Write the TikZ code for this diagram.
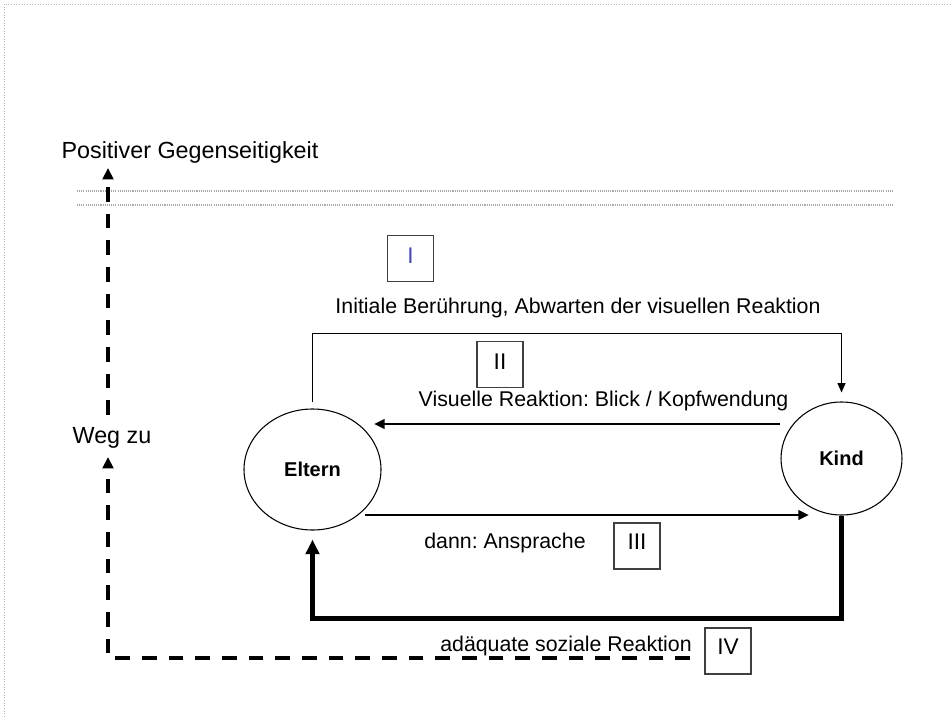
\documentclass[tikz,border=0pt]{standalone}
\usepackage{fontspec}
\setmainfont{Liberation Sans}
\usetikzlibrary{arrows.meta,shapes.geometric,calc}
\definecolor{numblue}{RGB}{70,70,200}
\frenchspacing
\begin{document}
\begin{tikzpicture}[x=0.75pt,y=-0.75pt,
  lbl/.style={anchor=base, inner sep=0pt, font=\fontsize{16}{19}\selectfont},
  biglbl/.style={anchor=base, inner sep=0pt, font=\fontsize{17.5}{21}\selectfont},
  party/.style={draw, ellipse, line width=0.8pt, inner sep=0pt, font=\bfseries\fontsize{15}{18}\selectfont},
  numbox/.style={draw=black!75, line width=1pt, minimum width=34.5pt, minimum height=34.5pt, inner sep=0pt},
  num/.style={font=\fontsize{17}{20}\selectfont, inner sep=0pt},
  thinarr/.style={line width=0.9pt, -{Triangle[length=7pt,width=6pt]}},
  midarr/.style={line width=2pt, -{Triangle[length=8pt,width=7pt]}},
  thickarr/.style={line width=3.2pt, line join=miter, -{Triangle[length=11pt,width=10pt]}},
  dasharr/.style={line width=2.7pt, dash pattern=on 11pt off 9pt, -{Triangle[length=8.5pt,width=8pt]}},
  dotline/.style={gray!70, line width=1pt, dash pattern=on 0.8pt off 0.8pt},
]
\useasboundingbox (0,0) rectangle (952,717);
\draw[gray!60, line width=0.6pt, dash pattern=on 0.8pt off 1.2pt] (4,717) -- (4,4) -- (952,4);

% dotted horizontal lines
\draw[dotline] (77,191) -- (892,191);
\draw[dotline] (77,205) -- (892,205);

% parties
\node[party, minimum width=102.75pt, minimum height=90.75pt] (eltern) at (312.5,469.5) {Eltern};
\node[party, minimum width=90.75pt, minimum height=84.75pt] (kind) at (841.5,458.5) {Kind};

% boxes with numerals
\node[numbox] (b1) at (410.5,258.5) {};
\node[num, text=numblue] (n1) at ($(b1.center)+(0,-3)$) {I};
\node[numbox] (b2) at (500,364.5) {};
\node[num] (n2) at ($(b2.center)+(0,-3)$) {II};
\node[numbox] (b3) at (637,546) {};
\node[num] (n3) at ($(b3.center)+(0,-4)$) {III};
\node[numbox] (b4) at (728,651) {};
\node[num] (n4) at ($(b4.center)+(0,-4)$) {IV};

% labels
\node[lbl] (t1) at (578,313) {Initiale Berührung, Abwarten der visuellen Reaktion};
\node[lbl] (t2) at (603.5,406) {Visuelle Reaktion: Blick / Kopfwendung};
\node[lbl] (t3) at (505,548) {dann: Ansprache};
\node[lbl] (t4) at (566,651) {adäquate soziale Reaktion};
\node[biglbl] (pos) at (190,158) {Positiver Gegenseitigkeit};
\node[biglbl] (weg) at (112,443) {Weg zu};

% connectors
\draw[thinarr] ($(eltern.north)+(0,-6)$) -- ++(0,-69) -| ($(kind.north)+(0,-9)$);
\draw[midarr] ($(kind.center)+(-61.5,-34.5)$) -- ($(eltern.center)+(61.5,-45.5)$);
\draw[midarr] ($(eltern.center)+(52.5,45.5)$) -- ($(kind.center)+(-32.5,56.5)$);
\draw[thickarr] (kind.south) -- ++(0,103) -| ($(eltern.south)+(0,9)$);

% dashed path
\coordinate (dstart) at (690,658);
\coordinate (wbelow) at (108,457);
\coordinate (wabove) at (108,415);
\coordinate (wtop) at (108,168);
\draw[dasharr] (dstart) -| (wbelow);
\draw[dasharr] (wabove) -- (wtop);
\end{tikzpicture}
\end{document}
